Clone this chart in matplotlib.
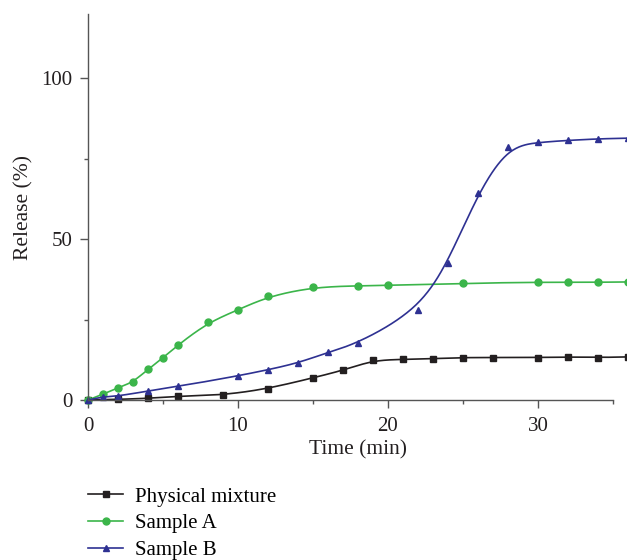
import numpy as np
import matplotlib
matplotlib.use("Agg")
import matplotlib.pyplot as plt

# release data
t_pm = [0, 2, 4, 6, 9, 12, 15, 17, 19, 21, 23, 25, 27, 30, 32, 34, 36]
pm = [0, 0.2, 0.5, 1.2, 1.5, 3.5, 6.9, 9.2, 12.4, 12.6, 12.9, 13.2, 13.2, 13.2, 13.4, 13.2, 13.4]

t_a = [0, 1, 2, 3, 4, 5, 6, 8, 10, 12, 15, 18, 20, 25, 30, 32, 34, 36]
sample_a = [0, 1.8, 3.8, 5.5, 9.6, 13.1, 17.1, 24.1, 28.0, 32.2, 35.1, 35.5, 35.6, 36.3, 36.6, 36.6, 36.6, 36.7]

t_b = [0, 1, 2, 4, 6, 10, 12, 14, 16, 18, 22, 24, 26, 28, 30, 32, 34, 36]
sample_b = [0, 1.0, 1.2, 2.8, 4.2, 7.5, 9.4, 11.5, 14.8, 17.6, 28.0, 42.7, 64.4, 78.7, 80.1, 80.7, 81.2, 81.4]


def bspline(x, y, n=30):
    # uniform cubic B-spline with the points as control points (clamped ends)
    px = np.r_[[x[0]] * 2, x, [x[-1]] * 2].astype(float)
    py = np.r_[[y[0]] * 2, y, [y[-1]] * 2].astype(float)
    s = np.linspace(0, 1, n, endpoint=False)
    b0 = (1 - s) ** 3 / 6
    b1 = (3 * s**3 - 6 * s**2 + 4) / 6
    b2 = (-3 * s**3 + 3 * s**2 + 3 * s + 1) / 6
    b3 = s**3 / 6
    xs, ys = [], []
    for i in range(len(px) - 3):
        xs.append(b0 * px[i] + b1 * px[i + 1] + b2 * px[i + 2] + b3 * px[i + 3])
        ys.append(b0 * py[i] + b1 * py[i + 1] + b2 * py[i + 2] + b3 * py[i + 3])
    xs.append([x[-1]])
    ys.append([y[-1]])
    return np.concatenate(xs), np.concatenate(ys)


plt.rcParams['font.family'] = ['Liberation Serif', 'DejaVu Serif']
plt.rcParams['font.size'] = 15

fig = plt.figure(figsize=(6.27, 5.6), dpi=100)
ax = fig.add_axes([88 / 627, 160 / 560, 540 / 627, 386 / 560])

series = [
    (t_pm, pm, '#231f20', 's', 'Physical mixture'),
    (t_a, sample_a, '#3bb54a', 'o', 'Sample A'),
    (t_b, sample_b, '#2e3192', '^', 'Sample B'),
]
handles = []
for tx, ty, col, mk, lab in series:
    xs, ys = bspline(tx, ty)
    ax.plot(xs, ys, color=col, lw=1.2, clip_on=False)
    ax.plot(tx, ty, ls='none', marker=mk, ms=5, color=col, clip_on=False)
    h, = ax.plot([], [], color=col, lw=1.2, marker=mk, ms=5, label=lab)
    handles.append(h)

ax.set_xlim(0, 36)
ax.set_ylim(0, 120)
ax.set_xticks([0, 10, 20, 30])
ax.set_xticks([5, 15, 25, 35], minor=True)
ax.set_yticks([0, 50, 100])
ax.set_yticks([25, 75], minor=True)
for s in ['top', 'right']:
    ax.spines[s].set_visible(False)
ax.spines['bottom'].set_bounds(0, 35)
for s in ['left', 'bottom']:
    ax.spines[s].set_color('#555555')
    ax.spines[s].set_linewidth(1.0)
ax.tick_params(which='major', direction='out', length=5.5, width=1.0, color='#555555',
               labelcolor='#231f20', labelsize=15)
ax.tick_params(which='minor', direction='out', length=3, width=1.0, color='#555555')
ax.tick_params(axis='x', which='major', pad=6.5)
ax.tick_params(axis='y', which='major', pad=5.5)
ax.set_xlabel('Time (min)', fontsize=15.5, color='#231f20', labelpad=3)
ax.set_ylabel('Release (%)', fontsize=15.5, color='#231f20', labelpad=6)

fig.legend(handles=handles, loc='upper left', bbox_to_anchor=(88 / 627, 1 - 487 / 560),
           frameon=False, fontsize=15, handlelength=1.7, labelspacing=0.35,
           handletextpad=0.55, borderpad=0, borderaxespad=0)

fig.savefig('out.png', dpi=100)
